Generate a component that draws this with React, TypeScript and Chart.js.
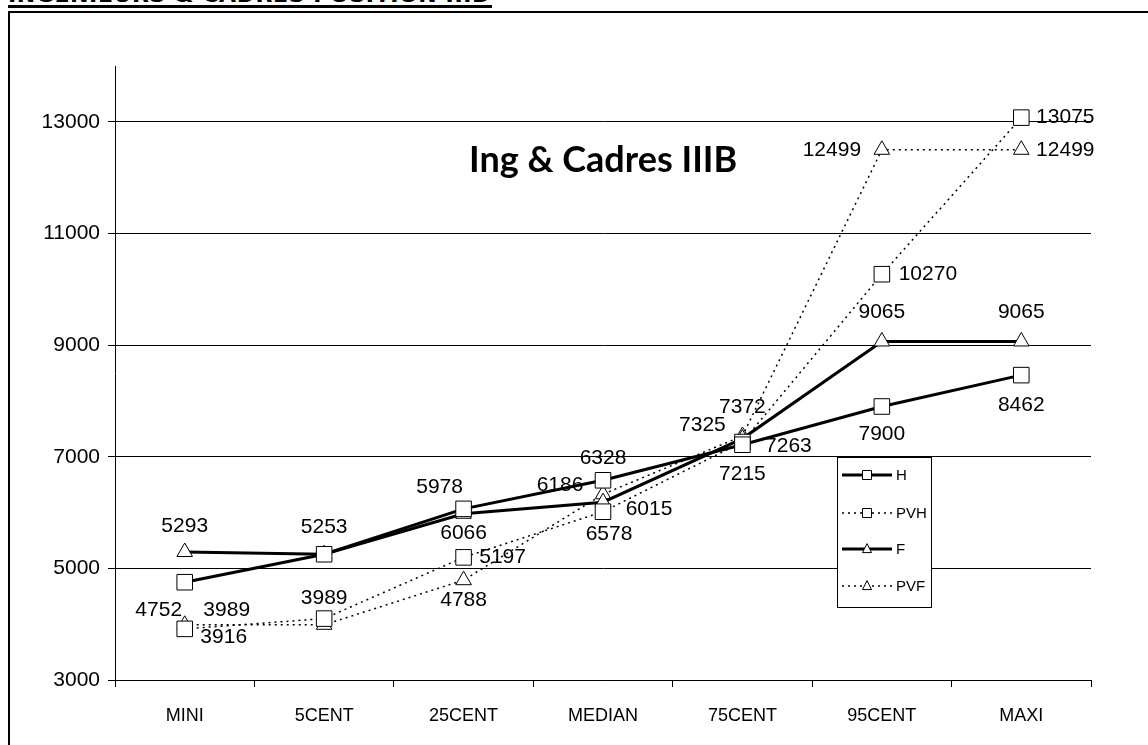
import React, { useEffect, useRef } from "react";
import { Chart, registerables } from "chart.js";

Chart.register(...registerables);

const CATEGORIES = ["MINI", "5CENT", "25CENT", "MEDIAN", "75CENT", "95CENT", "MAXI"];
const H = [4752, 5253, 6066, 6578, 7215, 7900, 8462];
const PVH = [3916, 4100, 5197, 6015, 7263, 10270, 13075];
const F = [5293, 5253, 5978, 6186, 7325, 9065, 9065];
const PVF = [3989, 3989, 4788, 6328, 7372, 12499, 12499];
const Y_TICKS = [3000, 5000, 7000, 9000, 11000, 13000];
const Y_MIN = 3000;
const Y_MAX = 14000;

// label offsets (dx, dy) from each point, null = label not shown
const LABEL_OFFSETS: (number[] | null)[][] = [
  [[-26, 28], null, [0, 24], [6, 54], [0, 29], [0, 28], [0, 30]],
  [[39, 8], null, [39, 0], [46, -3], [46, 4], [46, 0], [44, 0]],
  [[0, -26], [0, -27], [-24, -27], [-43, -17], [-40, -13], [0, -29], [0, -29]],
  [[42, -15], [0, -27], [0, 20], [0, -36], [0, -29], [-50, 0], [44, 0]],
];

const FONT = "'Liberation Sans', Arial, sans-serif";

const dataLabels = {
  id: "dataLabels",
  afterDatasetsDraw(chart: any) {
    const ctx = chart.ctx;
    ctx.save();
    ctx.font = `21px ${FONT}`;
    ctx.fillStyle = "#000";
    ctx.textAlign = "center";
    ctx.textBaseline = "middle";
    chart.data.datasets.forEach((ds: any, i: number) => {
      const meta = chart.getDatasetMeta(i);
      meta.data.forEach((pt: any, j: number) => {
        const off = LABEL_OFFSETS[i][j];
        if (!off) return;
        ctx.fillText(String(ds.data[j]), pt.x + off[0], pt.y + off[1]);
      });
    });
    ctx.restore();
  },
};

function drawMarker(ctx: CanvasRenderingContext2D, style: string, x: number, y: number, s: number) {
  ctx.beginPath();
  if (style === "rect") {
    ctx.rect(x - s / 2, y - s / 2, s, s);
  } else {
    ctx.moveTo(x, y - s * 0.6);
    ctx.lineTo(x + s / 2, y + s * 0.4);
    ctx.lineTo(x - s / 2, y + s * 0.4);
    ctx.closePath();
  }
  ctx.fillStyle = "#fff";
  ctx.fill();
  ctx.lineWidth = 1;
  ctx.strokeStyle = "#000";
  ctx.setLineDash([]);
  ctx.stroke();
}

const boxLegend = {
  id: "boxLegend",
  afterDraw(chart: any) {
    const ctx = chart.ctx;
    const bx = 837, by = 457, bw = 94, bh = 150;
    ctx.save();
    ctx.fillStyle = "#fff";
    ctx.fillRect(bx, by, bw, bh);
    ctx.strokeStyle = "#000";
    ctx.lineWidth = 1;
    ctx.strokeRect(bx + 0.5, by + 0.5, bw, bh);
    const rows = [475, 513, 549, 586];
    chart.data.datasets.forEach((ds: any, i: number) => {
      const y = rows[i];
      ctx.beginPath();
      ctx.strokeStyle = "#000";
      ctx.lineWidth = ds.borderWidth;
      ctx.setLineDash(ds.borderDash || []);
      ctx.moveTo(842, y);
      ctx.lineTo(892, y);
      ctx.stroke();
      drawMarker(ctx, ds.pointStyle, 867, y, 9);
      ctx.fillStyle = "#000";
      ctx.font = `15px ${FONT}`;
      ctx.textAlign = "left";
      ctx.textBaseline = "middle";
      ctx.fillText(ds.label, 896, y + 1);
    });
    ctx.restore();
  },
};

export default function App() {
  const ref = useRef<HTMLCanvasElement>(null);

  useEffect(() => {
    if (!ref.current) return;
    const solid = { borderColor: "#000", borderWidth: 3, borderDash: [] as number[] };
    const dotted = { borderColor: "#000", borderWidth: 1.5, borderDash: [2, 4] };
    const pts = {
      pointBackgroundColor: "#fff",
      pointBorderColor: "#000",
      pointBorderWidth: 1,
      tension: 0,
      fill: false,
    };
    const chart = new Chart(ref.current, {
      type: "line",
      data: {
        labels: CATEGORIES,
        datasets: [
          { label: "H", data: H, ...solid, ...pts, pointStyle: "rect", pointRadius: 11 },
          { label: "PVH", data: PVH, ...dotted, ...pts, pointStyle: "rect", pointRadius: 11 },
          { label: "F", data: F, ...solid, ...pts, pointStyle: "triangle", pointRadius: 9 },
          { label: "PVF", data: PVF, ...dotted, ...pts, pointStyle: "triangle", pointRadius: 9 },
        ] as any,
      },
      options: {
        animation: false,
        responsive: false,
        devicePixelRatio: 1,
        layout: { padding: { left: 0, top: 66, right: 57, bottom: 0 } },
        plugins: {
          legend: { display: false },
          title: { display: false },
          tooltip: { enabled: false },
        },
        scales: {
          x: {
            type: "category",
            offset: true,
            afterFit(scale: any) {
              scale.height = 65;
            },
            grid: {
              offset: true,
              drawOnChartArea: false,
              drawTicks: true,
              tickLength: 7,
              color: "#000",
            },
            border: { display: true, color: "#000", width: 1 },
            ticks: {
              color: "#000",
              font: { family: FONT, size: 18 },
              padding: 18,
              maxRotation: 0,
            },
          },
          y: {
            type: "linear",
            min: Y_MIN,
            max: Y_MAX,
            afterBuildTicks(scale: any) {
              scale.ticks = Y_TICKS.map((v) => ({ value: v }));
            },
            afterFit(scale: any) {
              scale.width = 115;
            },
            grid: {
              color: "#000",
              lineWidth: 1,
              drawTicks: true,
              tickLength: 7,
            },
            border: { display: true, color: "#000", width: 1 },
            ticks: {
              color: "#000",
              font: { family: FONT, size: 21 },
              padding: 8,
              callback: (v: any) => String(v),
            },
          },
        },
      },
      plugins: [dataLabels, boxLegend],
    });
    return () => chart.destroy();
  }, []);

  return (
    <div
      style={{
        position: "fixed",
        left: 0,
        top: 0,
        width: 1148,
        height: 745,
        overflow: "hidden",
        background: "#fff",
      }}
    >
      <div
        style={{
          position: "absolute",
          left: 8,
          top: -15,
          font: `bold 22px 'DejaVu Sans', sans-serif`,
          whiteSpace: "nowrap",
          color: "#000",
          lineHeight: "20px",
          letterSpacing: 0.6,
        }}
      >
        INGENIEURS &amp; CADRES POSITION IIIB
      </div>
      <div
        style={{
          position: "absolute",
          left: 8,
          top: 5,
          width: 484,
          height: 3,
          background: "#000",
        }}
      />
      <div
        style={{
          position: "absolute",
          left: 8,
          top: 11,
          width: 2000,
          height: 2000,
          borderLeft: "2px solid #000",
          borderTop: "2px solid #000",
        }}
      />
      <canvas
        ref={ref}
        width={1148}
        height={745}
        style={{ position: "absolute", left: 0, top: 0, width: 1148, height: 745 }}
      />
      <div
        style={{
          position: "absolute",
          left: 469,
          top: 137,
          font: `bold 36px Lato, 'Open Sans', sans-serif`,
          whiteSpace: "nowrap",
          color: "#000",
          lineHeight: "43px",
        }}
      >
        Ing &amp; Cadres IIIB
      </div>
    </div>
  );
}
